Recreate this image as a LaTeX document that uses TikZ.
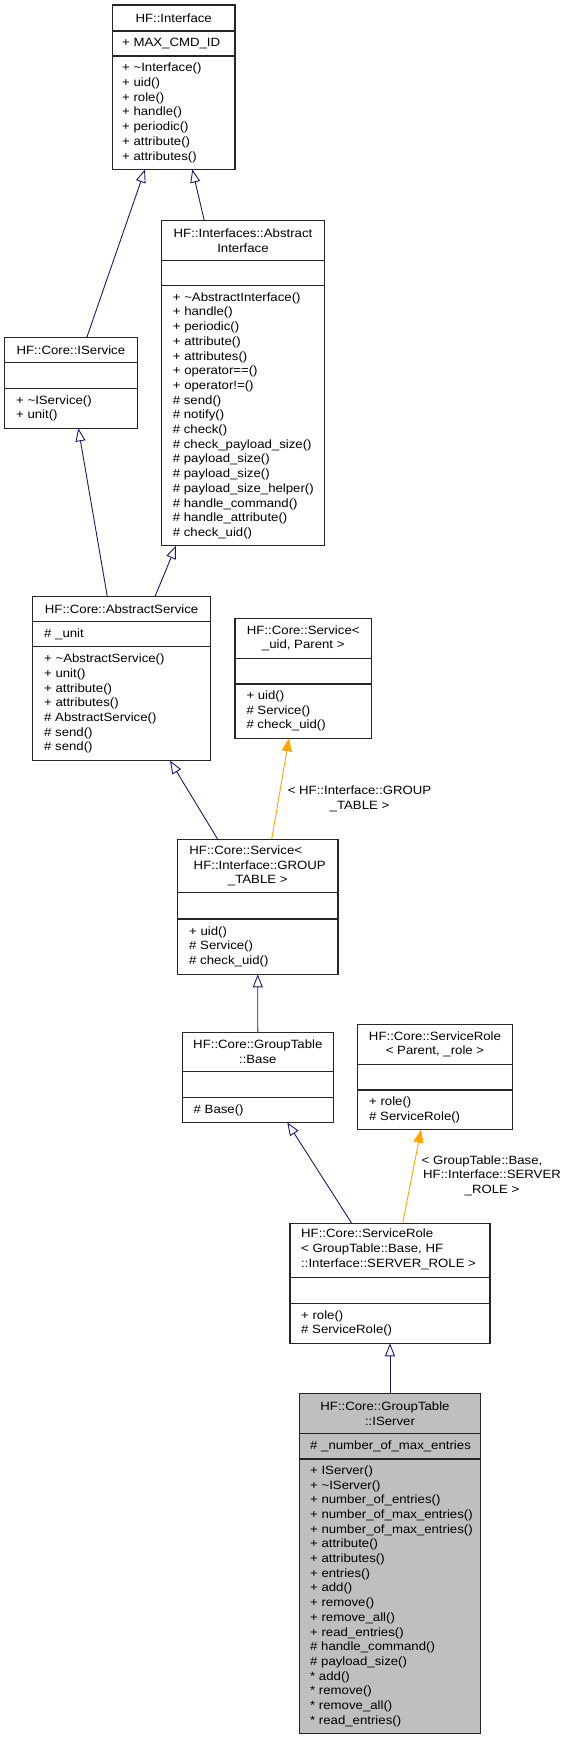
\documentclass[tikz,border=0pt]{standalone}
\usepackage{fontspec}
\setmainfont{Liberation Sans}[FakeStretch=1.1]
\usetikzlibrary{arrows.meta,calc}
\definecolor{inhblue}{HTML}{191970}
\definecolor{tmplorange}{HTML}{FFA500}
\definecolor{focusgray}{HTML}{BFBFBF}
\newcommand{\tld}{\textasciitilde}
\newcommand{\classframe}[8]{%
  \node[classbox,#8,minimum width={#3-#2},minimum height={#7-#4}] (#1) at ({(#2+#3)/2},{(#4+#7)/2}) {};
  \draw[sepline] (#2,#5) -- (#3,#5) (#2,#6) -- (#3,#6);}
\tikzset{
  classbox/.style={draw=black!85, line width=1.1pt, fill=white, rectangle, inner sep=0pt, outer sep=0pt},
  sepline/.style={draw=black!85, line width=1.1pt},
  txt/.style={inner sep=0pt, font=\fontsize{12}{14.7}\selectfont},
  ttl/.style={txt, align=center},
  ttlleft/.style={txt, align=left, anchor=west},
  mem/.style={txt, align=left, anchor=west},
  inh/.style={color=inhblue, line width=0.9pt, -{Triangle[open, length=13pt, width=10pt]}},
  tmpl/.style={color=tmplorange, line width=0.9pt, -{Triangle[length=13pt, width=10pt]}},
  elabel/.style={txt, align=center},
}
\begin{document}
\begin{tikzpicture}[x=1pt,y=-1pt]
\useasboundingbox (0,0) rectangle (570,1740);

% ---- B1 HF::Interface
\classframe{b1}{112.3}{235}{5}{31}{56}{169.5}{}
\node[ttl] (b1t) at (173.65,18) {HF::Interface};
\node[mem] (b1a) at (122,43.5) {+ MAX\_CMD\_ID};
\node[mem] (b1m) at (122,112.8) {+ \tld Interface()\\+ uid()\\+ role()\\+ handle()\\+ periodic()\\+ attribute()\\+ attributes()};

% ---- B2 AbstractInterface
\classframe{b2}{161.7}{324.3}{220.7}{260.3}{285.7}{545.7}{}
\node[ttl] (b2t) at (243,240.5) {HF::Interfaces::Abstract\\Interface};
\node[mem] (b2m) at (172.7,415.7) {+ \tld AbstractInterface()\\+ handle()\\+ periodic()\\+ attribute()\\+ attributes()\\+ operator==()\\+ operator!=()\\\# send()\\\# notify()\\\# check()\\\# check\_payload\_size()\\\# payload\_size()\\\# payload\_size()\\\# payload\_size\_helper()\\\# handle\_command()\\\# handle\_attribute()\\\# check\_uid()};

% ---- B3 IService
\classframe{b3}{4.4}{137.3}{337.7}{362.7}{388.3}{428.3}{}
\node[ttl] (b3t) at (70.85,350.2) {HF::Core::IService};
\node[mem] (b3m) at (16,408.3) {+ \tld IService()\\+ unit()};

% ---- B4 AbstractService
\classframe{b4}{32.5}{210.7}{596.5}{621.7}{646.7}{760.7}{}
\node[ttl] (b4t) at (121.6,609.1) {HF::Core::AbstractService};
\node[mem] (b4a) at (44,634.2) {\# \_unit};
\node[mem] (b4m) at (44,703.7) {+ \tld AbstractService()\\+ unit()\\+ attribute()\\+ attributes()\\\# AbstractService()\\\# send()\\\# send()};

% ---- B5 Service<_uid, Parent>
\classframe{b5}{235}{371.5}{618.3}{658.5}{684}{738.3}{}
\node[ttl] (b5t) at (303.25,638.4) {HF::Core::Service<\\\_uid, Parent >};
\node[mem] (b5m) at (246.3,711.15) {+ uid()\\\# Service()\\\# check\_uid()};

% ---- B6 Service<GROUP_TABLE>
\classframe{b6}{177.5}{338}{839.2}{892.7}{919}{974.3}{}
\node[ttl] (b6t) at (257.75,866) {HF::Core::Service<\hspace*{24pt}\\\hspace*{4pt}HF::Interface::GROUP\\\_TABLE >};
\node[mem] (b6m) at (189,946.65) {+ uid()\\\# Service()\\\# check\_uid()};

% ---- B7 GroupTable::Base
\classframe{b7}{182.3}{333.3}{1032.3}{1071.7}{1097.7}{1122.5}{}
\node[ttl] (b7t) at (257.8,1052) {HF::Core::GroupTable\\::Base};
\node[mem] (b7m) at (193.5,1110.1) {\# Base()};

% ---- B8 ServiceRole<Parent,_role>
\classframe{b8}{357.5}{512.5}{1024.3}{1064.3}{1090}{1129.7}{}
\node[ttl] (b8t) at (435,1044.3) {HF::Core::ServiceRole\\< Parent, \_role >};
\node[mem] (b8m) at (369,1109.85) {+ role()\\\# ServiceRole()};

% ---- B9 ServiceRole<GroupTable::Base, SERVER_ROLE>
\classframe{b9}{290}{490}{1223.3}{1277.5}{1303.3}{1343.3}{}
\node[ttlleft] (b9t) at (301,1249.2) {HF::Core::ServiceRole\\< GroupTable::Base, HF\\::Interface::SERVER\_ROLE >};
\node[mem] (b9m) at (301,1323.3) {+ role()\\\# ServiceRole()};

% ---- B10 IServer (focus)
\classframe{b10}{299.2}{480.8}{1393.7}{1433.3}{1459}{1733.3}{fill=focusgray}
\node[ttl] (b10t) at (390,1413.5) {HF::Core::GroupTable\hspace*{10pt}\\::IServer};
\node[mem] (b10a) at (310,1446.2) {\# \_number\_of\_max\_entries};
\node[mem] (b10m) at (310,1596.2) {+ IServer()\\+ \tld IServer()\\+ number\_of\_entries()\\+ number\_of\_max\_entries()\\+ number\_of\_max\_entries()\\+ attribute()\\+ attributes()\\+ entries()\\+ add()\\+ remove()\\+ remove\_all()\\+ read\_entries()\\\# handle\_command()\\\# payload\_size()\\* add()\\* remove()\\* remove\_all()\\* read\_entries()};

% ---- connectors
\draw[inh] ($(b3.north west)+(82.3,0)$) -- ($(b1.south west)+(32.7,0)$);
\draw[inh] ($(b2.north west)+(42.6,0)$) -- ($(b1.south west)+(80,0)$);
\draw[inh] ($(b4.north west)+(74.8,0)$) -- ($(b3.south west)+(73.9,0)$);
\draw[inh] ($(b4.north west)+(122.5,0)$) -- ($(b2.south west)+(14.3,0)$);
\draw[inh] ($(b6.north west)+(40.2,0)$) -- ($(b4.south west)+(137.5,0)$);
\draw[tmpl] ($(b6.north west)+(94.2,0)$) -- ($(b5.south west)+(54,0)$);
\draw[inh] (b7.north) -- (b6.south);
\draw[inh] ($(b9.north west)+(61.7,0)$) -- ($(b7.south west)+(105,0)$);
\draw[tmpl] ($(b9.north west)+(112.7,0)$) -- ($(b8.south west)+(63.5,0)$);
\draw[inh] (b10.north) -- (b9.south);

% ---- edge labels
\node[elabel] (l1) at (359.5,798.8) {< HF::Interface::GROUP\\\_TABLE >};
\node[elabel] (l2) at (492,1175.6) {< GroupTable::Base,\hspace*{20pt}\\HF::Interface::SERVER\\\_ROLE >};
\end{tikzpicture}
\end{document}
